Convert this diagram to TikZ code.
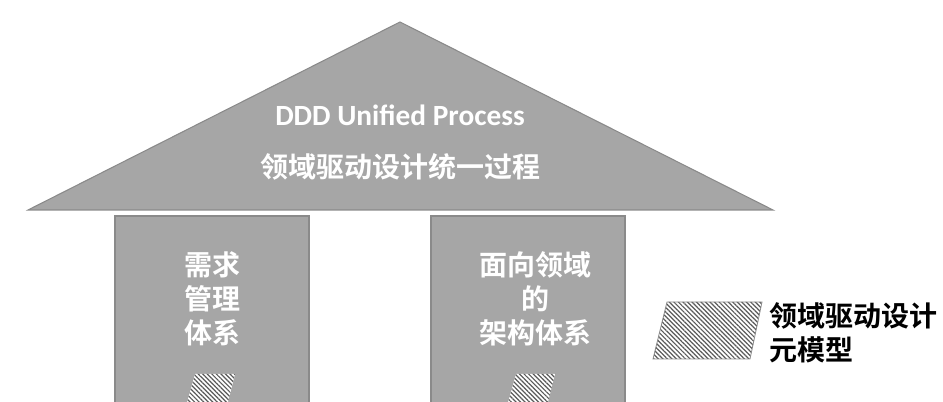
\documentclass[tikz,border=0pt]{standalone}
\usepackage{fontspec}
\setmainfont{Carlito}
\newfontfamily\cjk{Noto Sans CJK SC}[BoldFont={Noto Sans CJK SC Bold}]
\usetikzlibrary{patterns.meta}
\definecolor{housegray}{HTML}{A6A6A6}
\definecolor{edgegray}{HTML}{8A8A8A}
\definecolor{hatchgray}{HTML}{5A5A5A}
\tikzset{
  housepart/.style={fill=housegray, draw=edgegray, line width=0.8pt},
  metabox/.style={fill=white, draw=edgegray, line width=0.6pt,
    pattern={Lines[angle=-45,distance=2.4pt,line width=0.9pt]}, pattern color=hatchgray},
  whitecjk/.style={text=white, font=\cjk\bfseries\fontsize{21}{26}\selectfont, align=center, inner sep=0pt},
  blackcjk/.style={text=black, font=\cjk\bfseries\fontsize{21}{26}\selectfont, align=left, inner sep=0pt, anchor=west},
  latin/.style={text=white, font=\bfseries\fontsize{22}{26}\selectfont, inner sep=0pt}
}
\begin{document}
\begin{tikzpicture}[x=0.75pt,y=-0.75pt]
\useasboundingbox (0,0) rectangle (943,402);
\begin{scope}
\clip (0,0) rectangle (943,402);
% roof
\draw[housepart] (400,22) coordinate (apex) -- (773,210) coordinate (br) -- (28,210) coordinate (bl) -- cycle;
% pillars
\draw[housepart] (115,216) rectangle (309,410);
\draw[housepart] (431,216) rectangle (625,410);
% small meta-model markers
\fill[white] (195,374) -- (235,374) -- (227,406) -- (186,406) -- cycle;
\path[metabox, draw=none] (195,374) -- (235,374) -- (227,406) -- (186,406) -- cycle;
\fill[white] (516,374) -- (555,374) -- (547,406) -- (507,406) -- cycle;
\path[metabox, draw=none] (516,374) -- (555,374) -- (547,406) -- (507,406) -- cycle;
\end{scope}
% legend marker
\fill[white] (667,302) -- (762,302) -- (750,359) -- (653,359) -- cycle;
\draw[metabox] (667,302) -- (762,302) -- (750,359) -- (653,359) -- cycle;
% texts
\node[latin] (t1) at (400,115) {DDD Unified Process};
\node[whitecjk] (t2) at (400,167) {领域驱动设计统一过程};
\node[whitecjk] (p1a) at (212,265) {需求};
\node[whitecjk] (p1b) at (212,299) {管理};
\node[whitecjk] (p1c) at (212,333) {体系};
\node[whitecjk] (p2a) at (535,265) {面向领域};
\node[whitecjk] (p2b) at (535,299) {的};
\node[whitecjk] (p2c) at (535,333) {架构体系};
\node[blackcjk] (l1) at (769,316) {领域驱动设计};
\node[blackcjk] (l2) at (769,350) {元模型};
\end{tikzpicture}
\end{document}
